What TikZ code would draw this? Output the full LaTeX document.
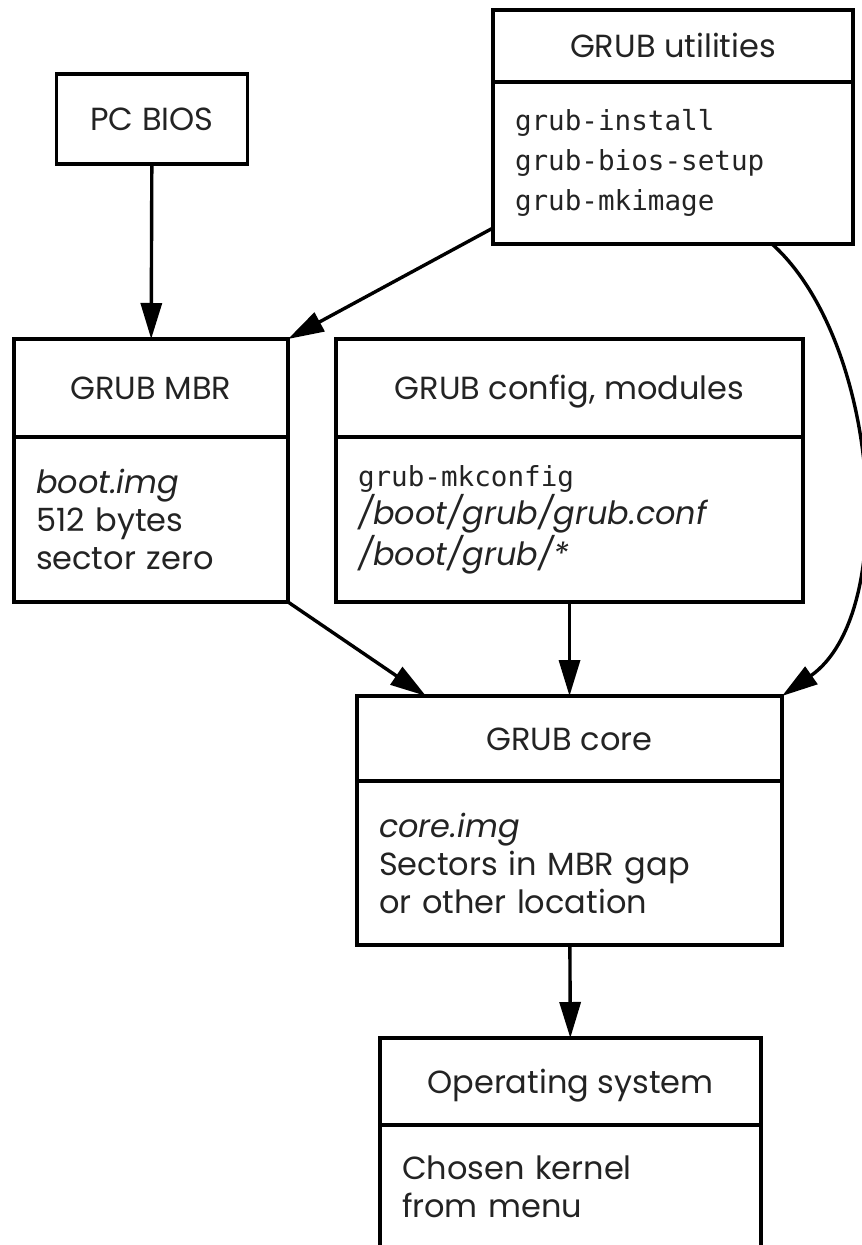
\documentclass[tikz,border=0pt]{standalone}
\usepackage{fontspec}
\setmainfont{Poppins}
\setmonofont{DejaVu Sans Mono}
\usepackage{tikz}
\usetikzlibrary{positioning,arrows.meta}
\definecolor{colortext}{RGB}{35,35,35}

\begin{document}
\begin{tikzpicture}[
    x=0.5pt, y=-0.5pt,
    line width=1.7pt,
    >={Triangle[length=18pt,width=10.5pt]},
    head/.style={draw,outer sep=0pt,inner sep=0pt,text=colortext,
        text height=11.5pt,text depth=0pt,font={\fontsize{16}{19}\selectfont}},
    body/.style={draw,outer sep=0pt,inner xsep=11pt,inner ysep=0pt,align=left,
        text=colortext,font={\fontsize{16}{19}\selectfont}},
    code/.style={font={\ttfamily\fontsize{13.8}{20}\selectfont}},
]
    \useasboundingbox (0,0) rectangle (861,1245);

    \node[head,minimum width=95.5pt,minimum height=45pt] (bios) at (152,119) {PC BIOS};

    \node[head,minimum width=180pt,minimum height=36pt] (util) at (673,46) {GRUB utilities};
    \node[body,code,text width=158pt,minimum height=81pt,below=0pt of util] (utilbody) {grub-install\\
    grub-bios-setup\\
    grub-mkimage};

    \node[head,minimum width=137pt,minimum height=49pt] (mbr) at (151,388) {GRUB MBR};
    \node[body,text width=115pt,minimum height=82.5pt,below=0pt of mbr] (mbrbody) {\textit{boot.img}\\
    512 bytes\\
    sector zero};

    \node[head,minimum width=233.5pt,minimum height=49pt] (cfg) at (569.5,388) {GRUB config, modules};
    \node[body,text width=211.5pt,minimum height=82.5pt,below=0pt of cfg] (cfgbody) {{\ttfamily\fontsize{13.8}{19}\selectfont grub-mkconfig}\\
    \textit{/boot/grub/grub.conf}\\
    \textit{/boot/grub/*}};

    \node[head,minimum width=212.5pt,minimum height=42.5pt] (core) at (569.5,738.5) {GRUB core};
    \node[body,text width=190.5pt,minimum height=82pt,below=0pt of core] (corebody) {\textit{core.img}\\
    Sectors in MBR gap\\
    or other location};

    \node[head,minimum width=190.5pt,minimum height=43.5pt] (os) at (570.5,1081.5) {Operating system};
    \node[body,text width=168.5pt,minimum height=62pt,below=0pt of os] (osbody) {Chosen kernel\\
    from menu};

    \draw[->] (bios) -- (mbr);
    \draw[->] ([yshift=8pt]utilbody.south west) -- (mbr.north east);
    \draw[->] ([xshift=-40.5pt]utilbody.south east) .. controls +(107,96) and +(118,-83) .. (core.north east);
    \draw[->] (mbrbody.south east) -- ([xshift=34.5pt]core.north west);
    \draw[->] (cfgbody) -- (core);
    \draw[->] (corebody) -- (os);

\end{tikzpicture}
\end{document}
